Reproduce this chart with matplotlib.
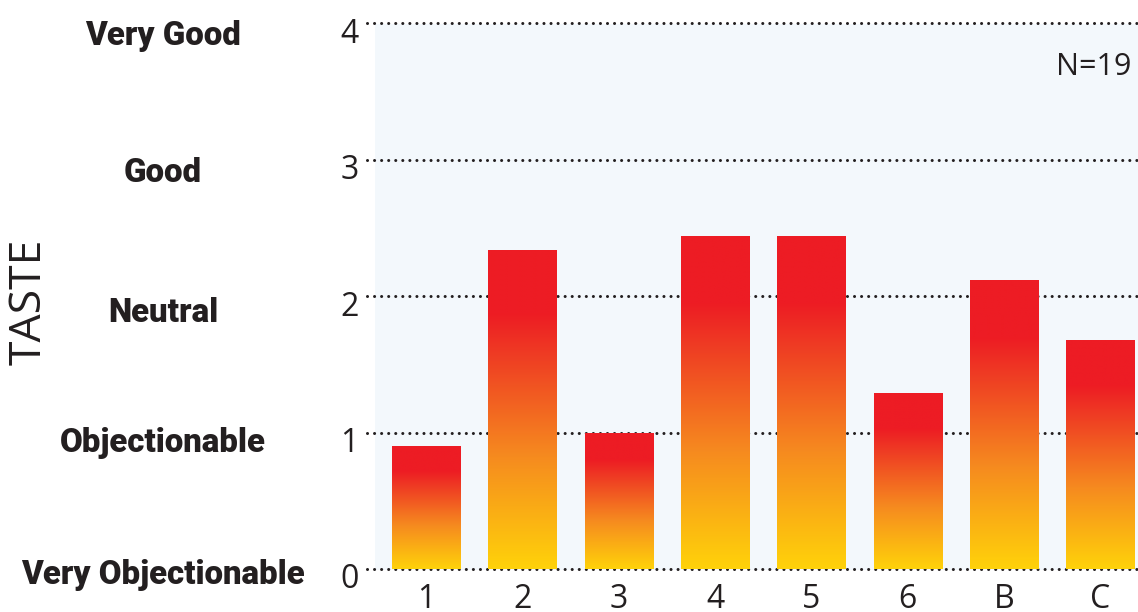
import matplotlib
matplotlib.use("Agg")
import matplotlib.pyplot as plt
import matplotlib.transforms as mtransforms
import numpy as np
from matplotlib import font_manager
from matplotlib.colors import LinearSegmentedColormap

# Data
categories = ["1", "2", "3", "4", "5", "6", "B", "C"]
taste_scores = [0.9, 2.34, 1.0, 2.44, 2.44, 1.29, 2.12, 1.68]
level_values = [0, 1, 2, 3, 4]
level_names = ["Very Objectionable", "Objectionable", "Neutral", "Good", "Very Good"]
sample_note = "N=19"
axis_title = "TASTE"

# Fonts: a regular humanist sans plus the heaviest available weight for level names
fonts = font_manager.fontManager.ttflist
available = {f.name for f in fonts}


def pick(cands, default="DejaVu Sans"):
    for c in cands:
        if c in available:
            return c
    return default


def heaviest(name):
    ws = []
    for f in fonts:
        if f.name == name:
            w = f.weight
            if isinstance(w, str):
                w = font_manager.weight_dict.get(w, 400)
            ws.append(w)
    return max(ws) if ws else 0


regular_font = pick(["Open Sans", "Lato", "Noto Sans"])
bold_font, bold_weight = pick(["Open Sans", "Lato"]), "bold"
for cand in ["Roboto", "Open Sans", "Lato", "Noto Sans"]:
    w = heaviest(cand)
    if w >= 800:
        bold_font, bold_weight = cand, w
        break

W, H, DPI = 1138, 612, 100
fig = plt.figure(figsize=(W / DPI, H / DPI), dpi=DPI)
fig.patch.set_facecolor("white")

# axes box in pixels (from bottom-left)
ax_left, ax_right = 375, 1138
ax_bottom, ax_top = 42, 588
ax = fig.add_axes([ax_left / W, ax_bottom / H, (ax_right - ax_left) / W, (ax_top - ax_bottom) / H])
ax.set_facecolor("#f3f8fc")

YLIM = (-0.007, 3.996)
XLIM = (-0.529, 7.39)
for s in ax.spines.values():
    s.set_visible(False)

x = np.arange(len(categories))
bar_width = 0.706

# gradient bars: yellow at base through orange to red at the top
cmap = LinearSegmentedColormap.from_list(
    "heat",
    [(0.0, "#ffd20a"), (0.35, "#f68b1f"), (0.65, "#ef4123"), (0.8, "#ed1c24"), (1.0, "#ed1c24")],
)
grad = np.linspace(0, 1, 256).reshape(-1, 1)
bars = ax.bar(x, taste_scores, width=bar_width, color="none", edgecolor="none", zorder=3)
for b in bars:
    x0, y0 = b.get_x(), b.get_y()
    w, h = b.get_width(), b.get_height()
    im = ax.imshow(grad, cmap=cmap, origin="lower", aspect="auto",
                   extent=[x0, x0 + w, y0, y0 + h], zorder=3, interpolation="bilinear")
    im.set_clip_path(b)
ax.set_xlim(*XLIM)
ax.set_ylim(*YLIM)

# dotted reference lines
for v in level_values:
    ax.plot([-0.612, XLIM[1]], [v, v], color="#231f20", lw=2.2,
            linestyle=(0, (0.01, 2.3)), dash_capstyle="round",
            clip_on=False, zorder=2)

# x tick labels
ax.set_xticks(x)
ax.set_xticklabels(categories, fontsize=23, family=regular_font, color="#231f20")
ax.tick_params(axis="x", length=0, pad=9)
ax.set_yticks([])

# numeric level labels
for v in level_values:
    ax.text(-0.7, v - 0.08, str(v), ha="right", va="center", fontsize=23,
            family=regular_font, color="#231f20", clip_on=False)

# verbal level names, centred in the left margin
blend = mtransforms.blended_transform_factory(fig.transFigure, ax.transData)
name_texts = []
offsets = [-0.04, -0.075, -0.12, -0.1, -0.095]
for v, name, off in zip(level_values, level_names, offsets):
    t = ax.text(163 / W, v + off, name, ha="center", va="center", transform=blend,
                fontsize=22, family=bold_font, fontweight=bold_weight,
                color="#231f20", clip_on=False)
    name_texts.append(t)

# fit the longest name to its width
fig.canvas.draw()
r = fig.canvas.get_renderer()
wlong = name_texts[0].get_window_extent(r).width
scale = 283 / wlong
for t in name_texts:
    t.set_fontsize(22 * scale)

fig.text(29 / W, 1 - 302 / H, axis_title, rotation=90, ha="center", va="center",
         fontsize=32, family=regular_font, color="#231f20")
fig.text(1131 / W, 1 - 67 / H, sample_note, ha="right", va="center",
         fontsize=22, family=regular_font, color="#231f20")

fig.savefig("out.png", dpi=DPI, facecolor="white")
